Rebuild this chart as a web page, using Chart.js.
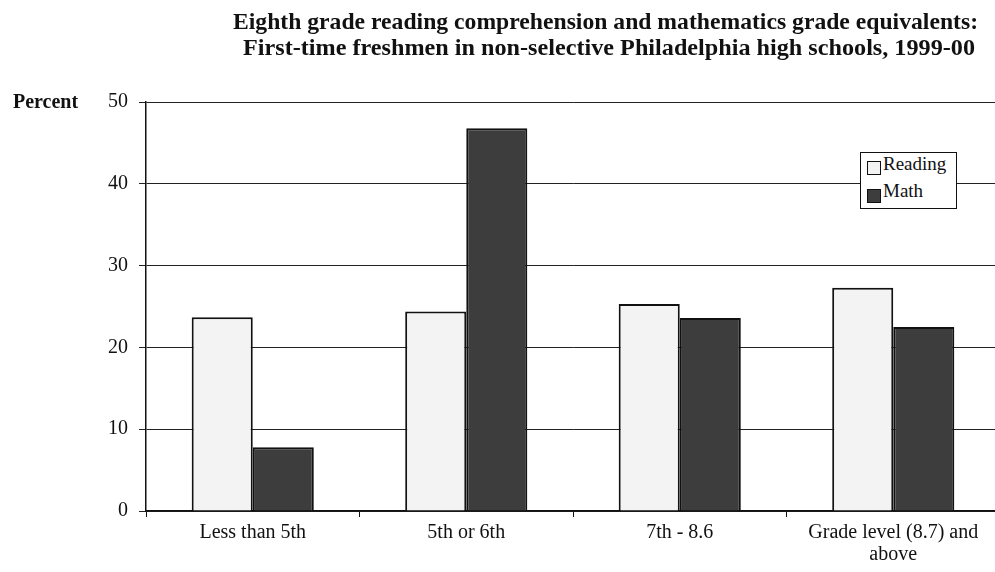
<!DOCTYPE html>
<html>
<head>
<meta charset="utf-8">
<script src="https://cdn.jsdelivr.net/npm/chart.js@4.4.1/dist/chart.umd.min.js"></script>
<style>
  html, body { margin: 0; padding: 0; overflow: hidden; background: #fff; width: 995px; height: 572px; }
  #wrap { position: absolute; left: 0; top: 0; width: 1000px; height: 572px; }
  .tl { position: absolute; font-family: "Liberation Serif", serif; font-weight: bold; font-size: 23px; line-height: 23px; color: #111; white-space: nowrap; transform-origin: 0 0; }
  #ylab { position: absolute; left: 13px; top: 91px; font-family: "Liberation Serif", serif; font-weight: bold; font-size: 20px; line-height: 20px; color: #111; }
  #legend { position: absolute; left: 860px; top: 152px; width: 95px; height: 55px; border: 1px solid #111; background: #fff; font-family: "Liberation Serif", serif; font-size: 19px; color: #111; }
  .li { position: absolute; left: 22px; line-height: 19px; white-space: nowrap; }
  .sw { position: absolute; left: 6px; width: 12px; height: 12px; border: 1px solid #111; }
</style>
</head>
<body>
<div id="wrap">
  <canvas id="c" width="1000" height="572"></canvas>
</div>
<div class="tl" id="t1">Eighth grade reading comprehension and mathematics grade equivalents:</div>
<div class="tl" id="t2">First-time freshmen in non-selective Philadelphia high schools, 1999-00</div>
<div id="ylab">Percent</div>
<div id="legend">
  <span class="sw" style="top:8px;background:#f3f3f3"></span><div class="li" style="top:1px">Reading</div>
  <span class="sw" style="top:36px;background:#3d3d3d"></span><div class="li" style="top:28px">Math</div>
</div>
<script>
const categories = ["Less than 5th", "5th or 6th", "7th - 8.6", ["Grade level (8.7) and", "above"]];
const readingValues = [23.7, 24.4, 25.3, 27.3];
const mathValues = [7.8, 46.8, 23.6, 22.5];
const yTicks = [0, 10, 20, 30, 40, 50];

// fit title lines to reference extents (condensed face)
function fitLine(id, left, right, baseline) {
  const el = document.getElementById(id);
  const ctx = document.createElement('canvas').getContext('2d');
  ctx.font = 'bold 23px "Liberation Serif"';
  const w = ctx.measureText(el.textContent).width;
  el.style.left = left + 'px';
  el.style.top = (baseline - 19.2) + 'px';
  el.style.transform = 'scaleX(' + ((right - left) / w).toFixed(4) + ')';
}
fitLine('t1', 233, 978, 29);
fitLine('t2', 243, 975, 55);

const serif = '"Liberation Serif", "Times New Roman", serif';

new Chart(document.getElementById('c'), {
  type: 'bar',
  data: {
    labels: categories,
    datasets: [
      { label: 'Reading', data: readingValues, backgroundColor: '#f3f3f3', borderColor: '#111', borderWidth: 2,
        categoryPercentage: 0.572, barPercentage: 1.0 },
      { label: 'Math', data: mathValues, backgroundColor: '#3d3d3d', borderColor: '#111', borderWidth: 2,
        categoryPercentage: 0.572, barPercentage: 1.0 }
    ]
  },
  options: {
    responsive: false,
    animation: false,
    devicePixelRatio: 1,
    layout: { padding: { top: 102, right: 0, left: 0, bottom: 0 } },
    plugins: { legend: { display: false }, title: { display: false }, tooltip: { enabled: false } },
    scales: {
      x: {
        grid: { display: true, drawOnChartArea: false, drawTicks: true, tickLength: 6, color: '#111', offset: true },
        border: { display: true, color: '#111', width: 1.5 },
        ticks: { color: '#111', font: { family: serif, size: 20, lineHeight: 1.1 }, padding: 5, maxRotation: 0, autoSkip: false },
        afterFit: (s) => { s.height = 61; }
      },
      y: {
        min: 0, max: 50,
        afterBuildTicks: (s) => { s.ticks = yTicks.map(v => ({ value: v })); },
        grid: { color: '#222', lineWidth: 1, drawTicks: true, tickLength: 7 },
        border: { display: true, color: '#111', width: 1.5 },
        ticks: { color: '#111', font: { family: serif, size: 20 }, padding: 11 },
        afterFit: (s) => { s.width = 146; }
      }
    }
  }
});
</script>
</body>
</html>
